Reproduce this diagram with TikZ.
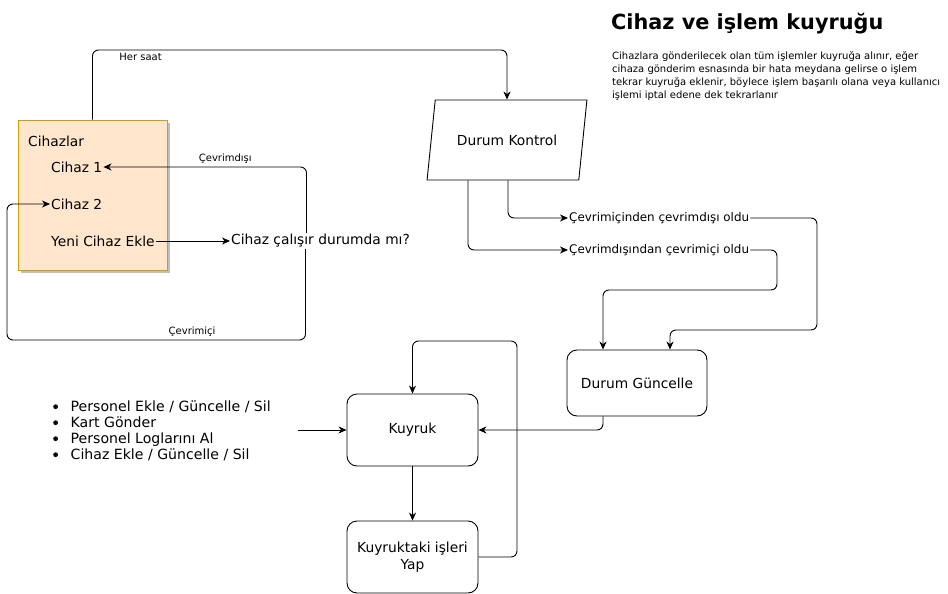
\documentclass[tikz,border=0pt]{standalone}
\usepackage{fontspec}
\setmainfont{DejaVu Sans}
\usetikzlibrary{arrows.meta,shapes.geometric,positioning}
\definecolor{boxfill}{HTML}{FFE6CC}
\definecolor{boxline}{HTML}{D79B00}
\newcommand{\bigbul}{\makebox[18.5pt][l]{\hspace{1pt}\raisebox{2.6pt}{\tikz\fill (0,0) circle (2.4pt);}}}
\tikzset{
  arr/.style={draw, line width=0.9pt, -{Stealth[length=8pt,width=7pt,inset=2.5pt]}, rounded corners=6pt},
  txt/.style={font=\fontsize{13.8}{16}\selectfont, inner sep=1pt},
  mid/.style={font=\fontsize{11.9}{14}\selectfont, inner sep=1pt},
  small/.style={font=\fontsize{10}{12}\selectfont, inner sep=0pt},
  proc/.style={draw, line width=0.9pt, rounded corners=10pt, font=\fontsize{13.8}{17}\selectfont, align=center},
}
\begin{document}
\begin{tikzpicture}[x=1pt,y=-1pt]
\useasboundingbox (0,0) rectangle (948,594);
% Cihazlar container
\fill[black!25] (21,123) rectangle (170,273);
\node[draw=boxline, fill=boxfill, line width=0.8pt, minimum width=149pt, minimum height=150pt, inner sep=0pt] (box) at (92.5,195) {};
\node[txt, anchor=west] (cz) at (27,141) {Cihazlar};
\node[txt, anchor=west] (c1) at (50,167) {Cihaz 1};
\node[txt, anchor=west] (c2) at (50,204) {Cihaz 2};
\node[txt, anchor=west] (ek) at (50,241) {Yeni Cihaz Ekle};
\node[txt, anchor=west, inner sep=1pt] (q) at (230,241) {Cihaz çalışır durumda mı?};
\draw[arr] (ek.east) -- (q.west);
\draw[arr] ([xshift=-14pt]q.north) |- (c1.east) node[pos=0.70, above=3pt, small] {Çevrimdışı};
\draw[arr] ([xshift=-15pt]q.south) |- (7,340) node[pos=0.69, above=3pt, small] {Çevrimiçi} |- (c2.west);
% Durum Kontrol
\node[draw, line width=0.9pt, trapezium, trapezium left angle=70.7, trapezium right angle=109.3, trapezium stretches=true, minimum width=160pt, minimum height=80pt, font=\fontsize{13.8}{16}\selectfont] (dk) at (507,140) {Durum Kontrol};
\draw[arr] (box.north) |- (507,50) node[pos=0.558, below=3pt, small] {Her saat} -- (dk.north);
\node[mid, anchor=west] (t1) at (568,218) {Çevrimiçinden çevrimdışı oldu};
\node[mid, anchor=west] (t2) at (568,250) {Çevrimdışından çevrimiçi oldu};
\draw[arr] ([xshift=1pt]dk.south) |- (t1.west);
\draw[arr] ([xshift=-39pt]dk.south) |- (t2.west);
% Durum Guncelle
\node[proc, minimum width=140pt, minimum height=66pt] (dg) at (637,383) {Durum Güncelle};
\draw[arr] (t1.east) -| (817,330) -| ([xshift=33pt]dg.north);
\draw[arr] (t2.east) -| (777,290) -| ([xshift=-34pt]dg.north);
% Kuyruk
\node[proc, minimum width=131pt, minimum height=72pt] (ky) at (412.5,430) {Kuyruk};
\node[proc, minimum width=131pt, minimum height=72pt] (kp) at (412.5,557) {Kuyruktaki işleri\\Yap};
\draw[arr] ([xshift=-34pt]dg.south) |- (ky.east);
\draw[arr] (ky.south) -- (kp.north);
\draw[arr] (kp.east) -| (517,341) -| (ky.north);
% Bullet list
\node[anchor=west, align=left, inner sep=0pt, font=\fontsize{14.1}{16}\selectfont] (bl) at (52,431) {%
\bigbul Personel Ekle / Güncelle / Sil\\
\bigbul Kart Gönder\\
\bigbul Personel Loglarını Al\\
\bigbul Cihaz Ekle / Güncelle / Sil};
\coordinate (bs) at (298,430);
\draw[arr] (bs) -- (ky.west);
% Title and description
\node[anchor=north west, inner sep=0pt, font=\fontsize{20.8}{24}\bfseries\selectfont] (title) at (611,13) {Cihaz ve işlem kuyruğu};
\node[anchor=north west, inner sep=0pt, align=left, font=\fontsize{10}{13}\selectfont] (desc) at (612,51) {%
Cihazlara gönderilecek olan tüm işlemler kuyruğa alınır, eğer\\
cihaza gönderim esnasında bir hata meydana gelirse o işlem\\
tekrar kuyruğa eklenir, böylece işlem başarılı olana veya kullanıcı\\
işlemi iptal edene dek tekrarlanır};
\end{tikzpicture}
\end{document}
